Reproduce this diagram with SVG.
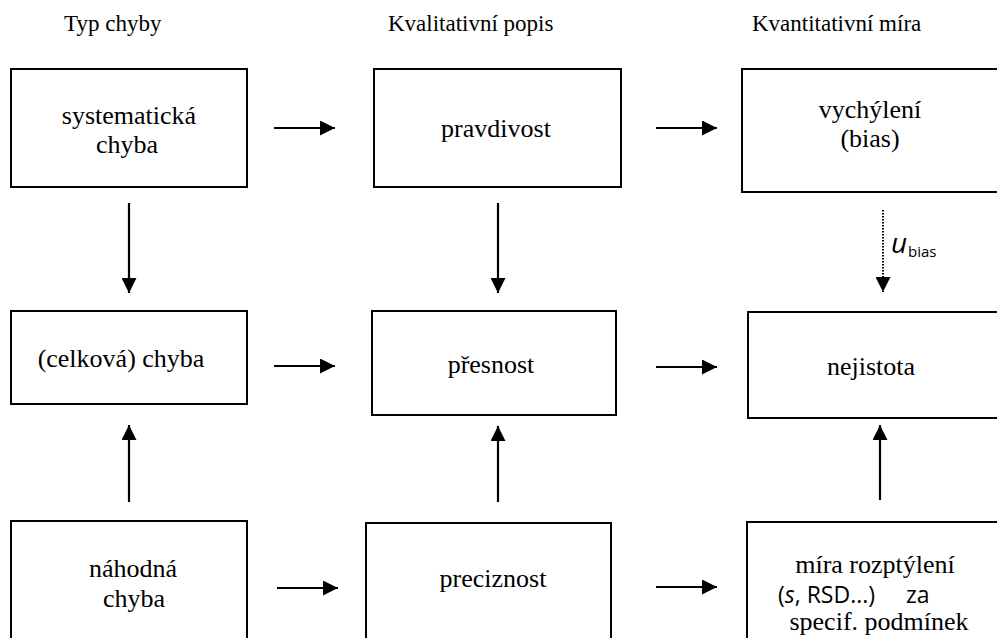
<svg xmlns="http://www.w3.org/2000/svg" width="997" height="638" viewBox="0 0 997 638">
  <defs>
    <!-- filled arrowhead shared by all connectors -->
    <marker id="tip" viewBox="0 0 10 10" refX="10" refY="5" markerUnits="userSpaceOnUse" markerWidth="17" markerHeight="15" orient="auto">
      <path d="M0,0 L10,5 L0,10 Z" fill="#000000"/>
    </marker>
  </defs>

  <rect width="997" height="638" fill="#ffffff"/>

  <!-- column headings -->
  <g id="headings" fill="#000000">
    <text x="64" y="31" font-family="Liberation Serif, serif" font-size="23">Typ chyby</text>
    <text x="388" y="31" font-family="Liberation Serif, serif" font-size="23">Kvalitativní popis</text>
    <text x="752" y="31" font-family="Liberation Serif, serif" font-size="23">Kvantitativní míra</text>
  </g>

  <!-- row 1 -->
  <g id="systematicka">
    <rect x="11" y="69" width="236" height="118" fill="#ffffff" stroke="#000000" stroke-width="2"/>
    <text x="129" y="124" font-family="Liberation Serif, serif" font-size="26" text-anchor="middle">systematická</text>
    <text x="127" y="153" font-family="Liberation Serif, serif" font-size="26" text-anchor="middle">chyba</text>
  </g>
  <g id="pravdivost">
    <rect x="374" y="69" width="247" height="118" fill="#ffffff" stroke="#000000" stroke-width="2"/>
    <text x="496" y="137" font-family="Liberation Serif, serif" font-size="26" text-anchor="middle">pravdivost</text>
  </g>
  <g id="vychyleni">
    <rect x="742" y="69" width="300" height="123" fill="#ffffff" stroke="#000000" stroke-width="2"/>
    <text x="870" y="118" font-family="Liberation Serif, serif" font-size="26" text-anchor="middle">vychýlení</text>
    <text x="870" y="147" font-family="Liberation Serif, serif" font-size="26" text-anchor="middle">(bias)</text>
  </g>

  <!-- row 2 -->
  <g id="celkova">
    <rect x="11" y="311" width="236" height="93" fill="#ffffff" stroke="#000000" stroke-width="2"/>
    <text x="121" y="367" font-family="Liberation Serif, serif" font-size="26" text-anchor="middle">(celková) chyba</text>
  </g>
  <g id="presnost">
    <rect x="372" y="311" width="244" height="104" fill="#ffffff" stroke="#000000" stroke-width="2"/>
    <text x="491" y="373" font-family="Liberation Serif, serif" font-size="26" text-anchor="middle">přesnost</text>
  </g>
  <g id="nejistota">
    <rect x="748" y="312" width="300" height="106" fill="#ffffff" stroke="#000000" stroke-width="2"/>
    <text x="871" y="375" font-family="Liberation Serif, serif" font-size="26" text-anchor="middle">nejistota</text>
  </g>

  <!-- row 3 -->
  <g id="nahodna">
    <rect x="11" y="521" width="236" height="140" fill="#ffffff" stroke="#000000" stroke-width="2"/>
    <text x="133" y="577" font-family="Liberation Serif, serif" font-size="26" text-anchor="middle">náhodná</text>
    <text x="134" y="607" font-family="Liberation Serif, serif" font-size="26" text-anchor="middle">chyba</text>
  </g>
  <g id="preciznost">
    <rect x="366" y="523" width="245" height="140" fill="#ffffff" stroke="#000000" stroke-width="2"/>
    <text x="493" y="587" font-family="Liberation Serif, serif" font-size="26" text-anchor="middle">preciznost</text>
  </g>
  <g id="mira">
    <rect x="747" y="522" width="300" height="140" fill="#ffffff" stroke="#000000" stroke-width="2"/>
    <text x="875" y="573" font-family="Liberation Serif, serif" font-size="26" text-anchor="middle">míra rozptýlení</text>
    <text x="778" y="603" font-family="Open Sans, sans-serif" font-size="23">(<tspan font-style="italic">s</tspan>, RSD...)<tspan x="906">za</tspan></text>
    <text x="879" y="630" font-family="Liberation Serif, serif" font-size="26" text-anchor="middle">specif. podmínek</text>
  </g>

  <!-- connectors -->
  <g id="connectors" stroke="#000000" stroke-width="2.2" fill="none" marker-end="url(#tip)">
    <line x1="274" y1="128" x2="335" y2="128"/>
    <line x1="656" y1="128" x2="717" y2="128"/>
    <line x1="274" y1="366" x2="335" y2="366"/>
    <line x1="656" y1="367" x2="717" y2="367"/>
    <line x1="277" y1="588" x2="338" y2="588"/>
    <line x1="656" y1="587" x2="717" y2="587"/>

    <line x1="129" y1="203" x2="129" y2="293"/>
    <line x1="498" y1="203" x2="498" y2="293"/>
    <line x1="883" y1="210" x2="883" y2="292" stroke-width="2" stroke-dasharray="1.5 1.5"/>

    <line x1="129" y1="502" x2="129" y2="425"/>
    <line x1="498" y1="502" x2="498" y2="426"/>
    <line x1="880" y1="500" x2="880" y2="425"/>
  </g>

  <!-- label of the dotted connector -->
  <g id="ubias" fill="#000000">
    <text x="891" y="253" font-family="Open Sans, sans-serif" font-size="28" font-style="italic">u</text>
    <text x="908" y="257" font-family="Open Sans, sans-serif" font-size="15">bias</text>
  </g>
</svg>
